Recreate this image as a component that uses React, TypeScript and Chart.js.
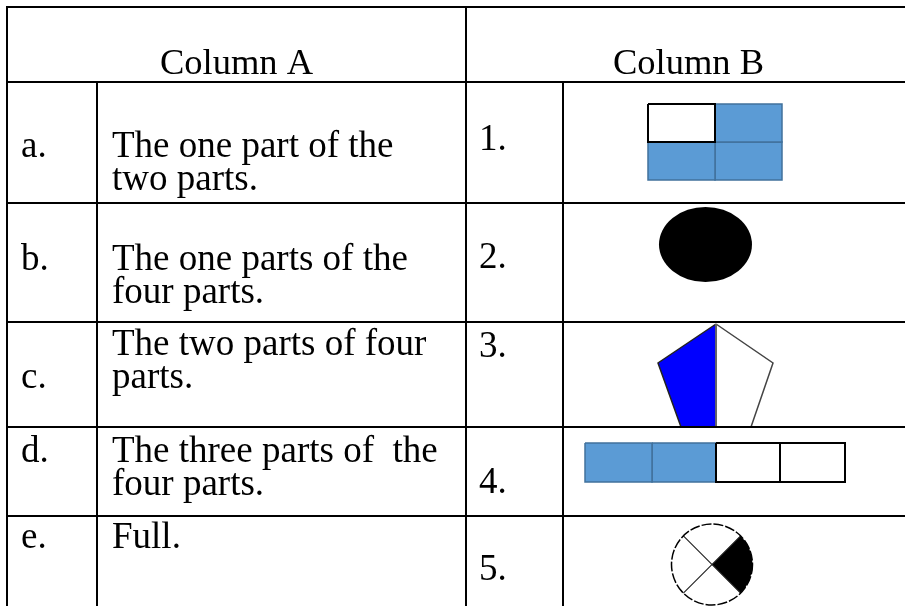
import { useEffect, useRef } from "react";
import { Chart, registerables } from "chart.js";

Chart.register(...registerables);

// ---- content ----
const columnHeaders = ["Column A", "Column B"];
const rowLetters = ["a.", "b.", "c.", "d.", "e."];
const rowDescriptions = [
  ["The one part of the", "two parts."],
  ["The one parts of the", "four parts."],
  ["The two parts of four", "parts."],
  ["The three parts of  the", "four parts."],
  ["Full."],
];
const rowNumbers = ["1.", "2.", "3.", "4.", "5."];
const gridShaded = [false, true, true, true]; // shape 1: TL, TR, BL, BR
const barShaded = [true, true, false, false]; // shape 4: left to right

// ---- layout (page pixel coordinates) ----
const W = 905;
const H = 606;
const rowEdges = [7, 82, 203, 322, 427, 516];
const outerCols = [7, 466];
const innerCols = [97, 563];
const headerCenters = [236.5, 688.5];
const headerBaseline = 74;
const letterBaselines = [157, 270, 388, 462, 548];
const textBaselines = [157, 270, 355, 462, 548];
const numberBaselines = [150, 268, 357, 493, 580];
const lineGap = 33;
const letterX = 21;
const textX = 112;
const numberX = 479;
const FONT_TEXT = "37px 'Liberation Serif', 'Times New Roman', serif";
const FONT_HEAD = "36.5px 'Liberation Serif', 'Times New Roman', serif";

const BLUE = "#5B9BD5";
const BLUE_EDGE = "#41719C";

type P = { x: number; y: number };
const rect = (x0: number, y0: number, x1: number, y1: number): P[] => [
  { x: x0, y: y0 },
  { x: x1, y: y0 },
  { x: x1, y: y1 },
  { x: x0, y: y1 },
  { x: x0, y: y0 },
];

function buildDatasets() {
  const ds: any[] = [];
  const lineDs = (data: P[], color: string, width: number, order: number, fillColor?: string) => ({
    data,
    borderColor: color,
    borderWidth: width,
    backgroundColor: fillColor || "transparent",
    fill: fillColor ? "shape" : false,
    pointRadius: 0,
    tension: 0,
    order,
    borderJoinStyle: "miter",
  });

  // table rules (on top)
  rowEdges.forEach((y) => ds.push(lineDs([{ x: 6, y }, { x: W, y }], "#000", 2, 0)));
  outerCols.forEach((x) => ds.push(lineDs([{ x, y: 6 }, { x, y: H }], "#000", 2, 0)));
  innerCols.forEach((x) => ds.push(lineDs([{ x, y: rowEdges[1] }, { x, y: H }], "#000", 2, 0)));

  // shape 1: 2x2 grid
  const gx = [648, 715, 782];
  const gy = [104, 142, 180];
  gridShaded.forEach((shaded, i) => {
    const c = i % 2;
    const r = Math.floor(i / 2);
    const pts = rect(gx[c], gy[r], gx[c + 1], gy[r + 1]);
    ds.push(shaded ? lineDs(pts, BLUE_EDGE, 1.5, 20, BLUE) : lineDs(pts, "#000", 2, 10, "#fff"));
  });

  // shape 3: pentagon, left half blue
  const top = { x: 716, y: 324 };
  const right = { x: 773, y: 363 };
  const left = { x: 658, y: 363 };
  const br = { x: 751, y: 427 };
  const bl = { x: 681, y: 427 };
  const midBottom = { x: 716, y: 427 };
  ds.push(lineDs([top, right, br, midBottom, top], "#444", 1.5, 30, "#fff"));
  ds.push(lineDs([top, left, bl, midBottom, top], "#222", 1.5, 25, "#0000FF"));
  ds.push(lineDs([top, midBottom], "#777", 1.5, 24));

  // shape 4: bar of four
  const bx = [585, 652, 716, 780, 845];
  const by = [443, 482];
  barShaded.forEach((shaded, i) => {
    const pts = rect(bx[i], by[0], bx[i + 1], by[1]);
    ds.push(shaded ? lineDs(pts, BLUE_EDGE, 1.5, 20, BLUE) : lineDs(pts, "#000", 2, 10, "#fff"));
  });
  return ds;
}

const drawPlugin = {
  id: "tableDecor",
  afterDatasetsDraw(chart: any) {
    const { ctx, scales } = chart;
    const px = (v: number) => scales.x.getPixelForValue(v);
    const py = (v: number) => scales.y.getPixelForValue(v);
    ctx.save();

    // shape 2: black ellipse
    ctx.fillStyle = "#000";
    ctx.beginPath();
    ctx.ellipse(px(705.5), py(244.5), px(705.5 + 46.5) - px(705.5), py(244.5 + 37.5) - py(244.5), 0, 0, Math.PI * 2);
    ctx.fill();

    // shape 5: circle with quarter shaded (its white image box nicks the rule above)
    ctx.fillStyle = "#fff";
    ctx.fillRect(px(660), py(514), px(757) - px(660), py(515) - py(514));
    const cx = px(712);
    const cy = py(564.5);
    const r = px(712 + 40.5) - px(712);
    ctx.beginPath();
    ctx.arc(cx, cy, r, 0, Math.PI * 2);
    ctx.fill();
    ctx.fillStyle = "#000";
    ctx.beginPath();
    ctx.moveTo(cx, cy);
    ctx.arc(cx, cy, r, -Math.PI / 4, Math.PI / 4);
    ctx.closePath();
    ctx.fill();
    ctx.strokeStyle = "#222";
    ctx.lineWidth = 1.1;
    ctx.beginPath();
    const d = r * Math.SQRT1_2;
    ctx.moveTo(cx - d, cy - d);
    ctx.lineTo(cx + d, cy + d);
    ctx.moveTo(cx + d, cy - d);
    ctx.lineTo(cx - d, cy + d);
    ctx.stroke();
    ctx.strokeStyle = "#000";
    ctx.setLineDash([10, 2]);
    ctx.lineWidth = 1.5;
    ctx.beginPath();
    ctx.arc(cx, cy, r, 0, Math.PI * 2);
    ctx.stroke();
    ctx.setLineDash([]);

    // texts
    ctx.fillStyle = "#000";
    ctx.textBaseline = "alphabetic";
    ctx.font = FONT_HEAD;
    ctx.textAlign = "center";
    columnHeaders.forEach((t, i) => ctx.fillText(t, px(headerCenters[i]), py(headerBaseline)));
    ctx.font = FONT_TEXT;
    ctx.textAlign = "left";
    rowLetters.forEach((t, i) => ctx.fillText(t, px(letterX), py(letterBaselines[i])));
    rowDescriptions.forEach((lines, i) =>
      lines.forEach((t, j) => ctx.fillText(t, px(textX), py(textBaselines[i] + j * lineGap)))
    );
    rowNumbers.forEach((t, i) => ctx.fillText(t, px(numberX), py(numberBaselines[i])));
    ctx.restore();
  },
};

export default function App() {
  const ref = useRef<HTMLCanvasElement | null>(null);
  useEffect(() => {
    if (!ref.current) return;
    const chart = new Chart(ref.current, {
      type: "line",
      data: { datasets: buildDatasets() },
      options: {
        animation: false,
        responsive: false,
        devicePixelRatio: 1,
        events: [],
        layout: { padding: 0 },
        plugins: { legend: { display: false }, tooltip: { enabled: false } },
        scales: {
          x: { type: "linear", min: 0, max: W, display: false },
          y: { type: "linear", min: 0, max: H, reverse: true, display: false },
        },
      },
      plugins: [drawPlugin],
    } as any);
    return () => chart.destroy();
  }, []);
  return (
    <div style={{ position: "absolute", left: 0, top: 0, width: W, height: H, background: "#fff" }}>
      <canvas ref={ref} width={W} height={H} style={{ display: "block", width: W, height: H }} />
    </div>
  );
}
